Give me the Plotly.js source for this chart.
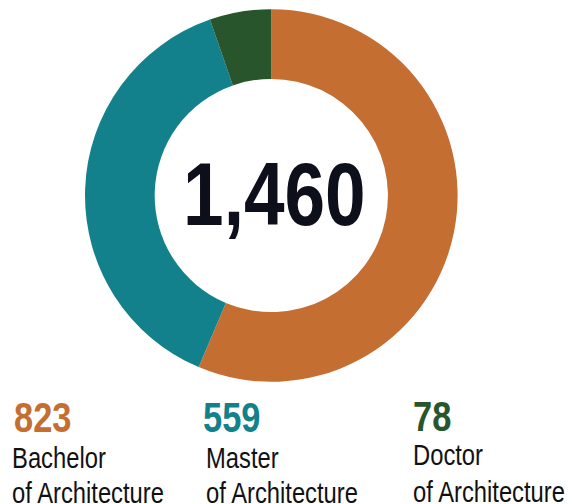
<!DOCTYPE html>
<html>
<head>
<meta charset="utf-8">
<script src="https://cdn.plot.ly/plotly-3.0.1.min.js"></script>
<style>
  html, body { margin: 0; padding: 0; background: #ffffff; }
  #chart { width: 568px; height: 504px; }
</style>
</head>
<body>
<div id="chart"></div>
<script>
// ---- data ----
const degrees = ["Bachelor", "Master", "Doctor"];
const degreeSuffix = "of Architecture";
const counts = [823, 559, 78];

// ---- style ----
const colors = ["#C46E32", "#13818B", "#28552B"];
const W = 568, H = 504;
const FONT = "'Liberation Sans', Arial, sans-serif";
const NARROW_SCALE = 0.82;   // Arial Narrow is Arial condensed to 82%

const px = x => x / W;
const py = y => 1 - y / H;

const total = counts.reduce((a, b) => a + b, 0);
const fmt = n => n.toLocaleString("en-US");

const trace = {
  type: "pie",
  labels: degrees.map(d => d + " " + degreeSuffix),
  values: counts,
  sort: false,
  direction: "clockwise",
  rotation: 0,
  hole: 0.626,
  marker: { colors: colors, line: { width: 0 } },
  textinfo: "none",
  hoverinfo: "skip",
  showlegend: false,
  domain: { x: [px(85), px(457.6)], y: [py(381.8), py(9.2)] }
};

// bottom label positions (pixels)
const numX = [11.6, 201, 411];
const line1X = [9.6, 203.9, 410.8];
const line2X = [9.7, 203.7, 411];
const numY = [417.8, 417.8, 416.3];
const line1Y = [458.3, 457.8, 455];
const line2Y = [493, 493.3, 492];

const annotations = [{
  xref: "paper", yref: "paper",
  x: px(274.8), y: py(194.2),
  xanchor: "center", yanchor: "middle",
  text: "<b>" + fmt(total) + "</b>",
  showarrow: false,
  font: { family: FONT, size: 89, color: "#0D0F1A" }
}];

degrees.forEach((d, i) => {
  annotations.push({
    xref: "paper", yref: "paper",
    x: px(numX[i]), y: py(numY[i]),
    xanchor: "left", yanchor: "middle",
    text: "<b>" + fmt(counts[i]) + "</b>",
    showarrow: false,
    font: { family: FONT, size: 42, color: colors[i] }
  });
  annotations.push({
    xref: "paper", yref: "paper",
    x: px(line1X[i]), y: py(line1Y[i]),
    xanchor: "left", yanchor: "middle",
    text: d,
    showarrow: false,
    font: { family: FONT, size: 29, color: "#111111" }
  });
  annotations.push({
    xref: "paper", yref: "paper",
    x: px(line2X[i]), y: py(line2Y[i]),
    xanchor: "left", yanchor: "middle",
    text: degreeSuffix,
    showarrow: false,
    font: { family: FONT, size: 29, color: "#111111" }
  });
});

const layout = {
  width: W, height: H,
  margin: { l: 0, r: 0, t: 0, b: 0, pad: 0 },
  paper_bgcolor: "#ffffff",
  plot_bgcolor: "#ffffff",
  showlegend: false,
  annotations: annotations
};

Plotly.newPlot("chart", [trace], layout, { staticPlot: true, displayModeBar: false })
  .then(gd => {
    // condense the annotation text horizontally (narrow typeface look)
    const texts = gd.querySelectorAll(".annotation-text");
    texts.forEach((t, i) => {
      const bb = t.getBBox();
      const cx = (i === 0) ? bb.x + bb.width / 2 : bb.x;
      const prev = t.getAttribute("transform") || "";
      t.setAttribute("transform",
        prev + " translate(" + cx + ",0) scale(" + NARROW_SCALE + ",1) translate(" + (-cx) + ",0)");
    });
  });
</script>
</body>
</html>
